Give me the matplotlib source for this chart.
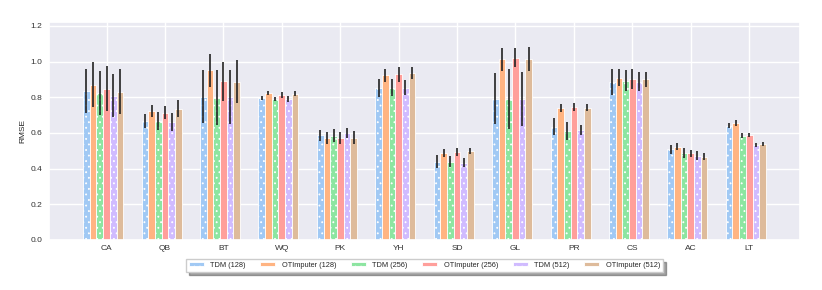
import numpy as np
import matplotlib
matplotlib.use("Agg")
import matplotlib.pyplot as plt
import seaborn as sns

datasets = ["CA", "QB", "BT", "WQ", "PK", "YH", "SD", "GL", "PR", "CS", "AC", "LT"]
series_labels = ["TDM (128)", "OTImputer (128)", "TDM (256)", "OTImputer (256)", "TDM (512)", "OTImputer (512)"]

tdm_128 = [0.836, 0.667, 0.803, 0.797, 0.588, 0.850, 0.439, 0.792, 0.635, 0.887, 0.508, 0.640]
tdm_128_err = [0.125, 0.040, 0.150, 0.011, 0.031, 0.050, 0.035, 0.142, 0.048, 0.072, 0.025, 0.015]
ot_128 = [0.870, 0.725, 0.950, 0.823, 0.573, 0.922, 0.489, 1.012, 0.741, 0.909, 0.523, 0.655]
ot_128_err = [0.125, 0.033, 0.094, 0.010, 0.035, 0.039, 0.023, 0.063, 0.021, 0.047, 0.019, 0.016]
tdm_256 = [0.823, 0.665, 0.797, 0.790, 0.584, 0.853, 0.439, 0.790, 0.611, 0.893, 0.486, 0.584]
tdm_256_err = [0.124, 0.050, 0.153, 0.011, 0.037, 0.047, 0.031, 0.166, 0.051, 0.059, 0.027, 0.015]
ot_256 = [0.848, 0.713, 0.889, 0.812, 0.573, 0.928, 0.495, 1.021, 0.747, 0.904, 0.486, 0.588]
ot_256_err = [0.125, 0.037, 0.109, 0.016, 0.033, 0.040, 0.023, 0.054, 0.023, 0.056, 0.019, 0.011]
tdm_512 = [0.809, 0.663, 0.800, 0.790, 0.598, 0.853, 0.433, 0.790, 0.616, 0.887, 0.472, 0.532]
tdm_512_err = [0.121, 0.050, 0.150, 0.015, 0.028, 0.041, 0.026, 0.150, 0.028, 0.053, 0.026, 0.009]
ot_512 = [0.831, 0.736, 0.887, 0.820, 0.573, 0.937, 0.499, 1.016, 0.741, 0.900, 0.467, 0.538]
ot_512_err = [0.125, 0.048, 0.120, 0.015, 0.036, 0.035, 0.018, 0.068, 0.019, 0.044, 0.020, 0.009]

yticks = [0.0, 0.2, 0.4, 0.6, 0.8, 1.0, 1.2]

values = [tdm_128, ot_128, tdm_256, ot_256, tdm_512, ot_512]
errors = [tdm_128_err, ot_128_err, tdm_256_err, ot_256_err, tdm_512_err, ot_512_err]

sns.set_theme(style="darkgrid")
plt.rcParams['font.family'] = ['Liberation Sans', 'DejaVu Sans']
plt.rcParams['hatch.linewidth'] = 0.6
palette = sns.color_palette("pastel")

fig = plt.figure(figsize=(8.22, 2.9), dpi=100)
ax = fig.add_axes([49/822, 1 - 240/290, (800-49)/822, (240-22.3)/290])

x = np.arange(len(datasets))
w = 0.8 / 7
for i, (vals, errs, lab) in enumerate(zip(values, errors, series_labels)):
    hatch = "..." if i % 2 == 0 else None
    ax.bar(x + (i - 3) * w, vals, w, yerr=errs, label=lab, color=palette[i],
           edgecolor="white", linewidth=0.6, hatch=hatch,
           error_kw=dict(ecolor="#222222", elinewidth=1.2, capsize=0))

ax.set_xticks(x)
ax.set_xticklabels(datasets, fontsize=6.0, color="#333333")
ax.set_yticks(yticks)
ax.set_yticklabels([f"{t:.1f}" for t in yticks], fontsize=6.0, color="#333333")
ax.set_ylim(0, 1.22)
ax.set_ylabel("RMSE", fontsize=6.0, labelpad=3, color="#222222")
ax.tick_params(axis='x', length=0, pad=3.5)
ax.tick_params(axis='y', length=0, pad=5)

leg = ax.legend(loc="upper center", bbox_to_anchor=(0.5, -0.07), ncol=6,
                fontsize=5.3, frameon=True, shadow=True, fancybox=False,
                handlelength=2.0, handleheight=0.45, handletextpad=0.9,
                columnspacing=2.0, borderpad=0.4)
leg.get_frame().set_facecolor("white")
leg.get_frame().set_edgecolor("#cccccc")

fig.savefig("out.png", dpi=100)
